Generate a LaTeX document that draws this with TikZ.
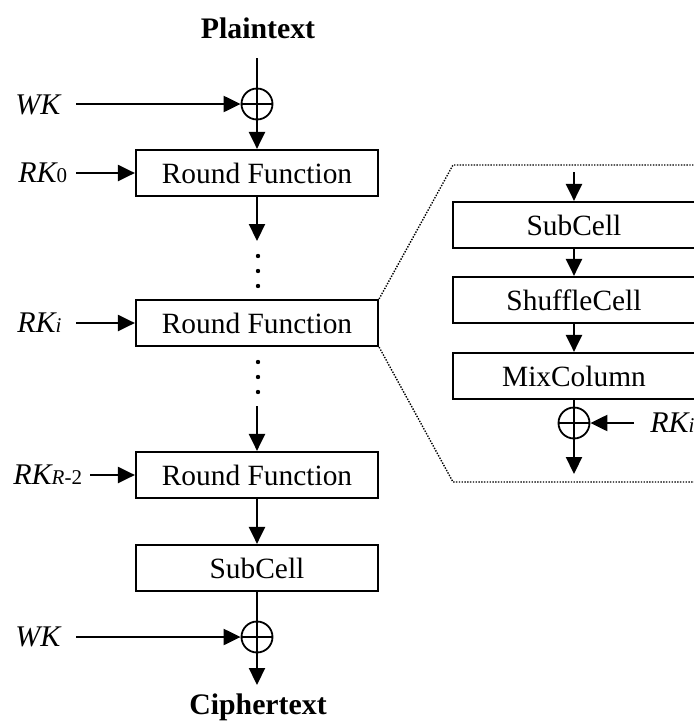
\documentclass[tikz,border=0pt]{standalone}
\usepackage{fontspec}
\setmainfont{Liberation Serif}
\usetikzlibrary{arrows.meta}
\tikzset{
  blk/.style={draw, line width=1.1pt, minimum width=121pt, minimum height=23pt, inner sep=0pt, font=\fontsize{14.7}{17}\selectfont},
  xor/.style={draw, circle, line width=0.9pt, minimum size=15.5pt, inner sep=0pt,
    path picture={\draw[line width=0.9pt] (path picture bounding box.north) -- (path picture bounding box.south)
      (path picture bounding box.west) -- (path picture bounding box.east);}},
  keylbl/.style={font=\fontsize{15}{18}\selectfont\itshape, inner sep=0pt, anchor=west},
  ttl/.style={font=\fontsize{14.9}{18}\selectfont\bfseries},
  arr/.style={line width=1.1pt, -{Triangle[length=8.5pt,width=8pt]}},
  ln/.style={line width=1.1pt},
  frame/.style={line width=0.7pt, dash pattern=on 0.7pt off 0.7pt},
}
\newcommand\sml{\fontsize{10.5}{12}\selectfont}
\begin{document}
\begin{tikzpicture}[x=0.5pt,y=-0.5pt]
\useasboundingbox (0,0) rectangle (694,724);
\pgfmathsetmacro\cx{257}
\pgfmathsetmacro\rx{574}
% main column
\node[ttl] (pt) at (258,28) {Plaintext};
\coordinate (pin) at (\cx,58);
\node[xor] (x1) at (\cx,104) {};
\node[blk] (rf0) at (\cx,173) {Round Function};
\node[blk] (rfi) at (\cx,323) {Round Function};
\node[blk] (rfr) at (\cx,475) {Round Function};
\node[blk] (sc) at (\cx,568) {SubCell};
\node[xor] (x2) at (\cx,637) {};
\node[ttl] (ct) at (258,707) {Ciphertext};
\coordinate (d1) at (\cx,241);
\coordinate (d2) at (\cx,406);
\coordinate (cout) at (\cx,685);
% keys
\node[keylbl] (wk1) at (15,105) {WK};
\node[keylbl] (rk0) at (18,173) {RK\upshape\sml 0};
\node[keylbl] (rki) at (17,323) {RK\sml i};
\node[keylbl] (rkr) at (13,475) {RK\sml R\upshape -2};
\node[keylbl] (wk2) at (15,637) {WK};
\coordinate (k1) at (76,104);
\coordinate (k2) at (76,173);
\coordinate (k3) at (76,323);
\coordinate (k4) at (90,475);
\coordinate (k5) at (76,637);
\draw[ln] (pin) -- (x1);
\draw[arr] (k1) -- (x1);
\draw[arr] (x1) -- (rf0);
\draw[arr] (k2) -- (rf0);
\draw[arr] (rf0) -- (d1);
\draw[arr] (k3) -- (rfi);
\draw[arr] (d2) -- (rfr);
\draw[arr] (k4) -- (rfr);
\draw[arr] (rfr) -- (sc);
\draw[ln] (sc) -- (x2);
\draw[arr] (k5) -- (x2);
\draw[arr] (x2) -- (cout);
\foreach \y in {256,271,286,362,377,392} \fill (258,\y) circle (1.1pt);
% round function detail
\draw[frame] (rfi.north east) -- (453,165) -- (696,165);
\draw[frame] (rfi.south east) -- (453,482) -- (696,482);
\node[blk] (sub) at (\rx,225) {SubCell};
\node[blk] (shuf) at (\rx,300) {ShuffleCell};
\node[blk] (mix) at (\rx,376) {MixColumn};
\node[xor] (x3) at (\rx,423) {};
\node[keylbl] (rki2) at (650,423) {RK\sml i};
\coordinate (rin) at (\rx,172);
\coordinate (rout) at (\rx,474);
\coordinate (k6) at (634,423);
\draw[arr] (rin) -- (sub);
\draw[arr] (sub) -- (shuf);
\draw[arr] (shuf) -- (mix);
\draw[ln] (mix) -- (x3);
\draw[arr] (k6) -- (x3);
\draw[arr] (x3) -- (rout);
\end{tikzpicture}
\end{document}
